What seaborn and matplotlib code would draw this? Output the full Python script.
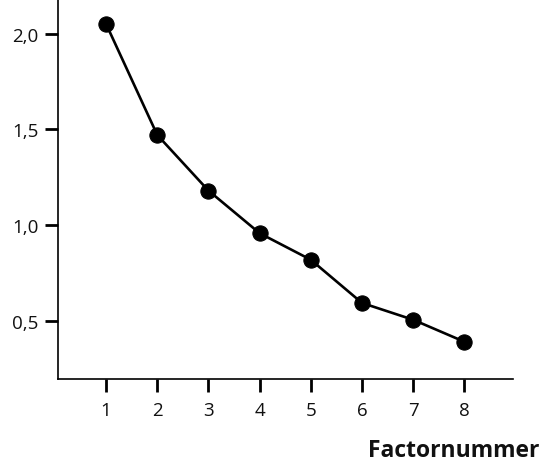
import matplotlib
matplotlib.use("Agg")
import matplotlib.pyplot as plt
import seaborn as sns
import pandas as pd
from matplotlib.ticker import FuncFormatter

factors = [1, 2, 3, 4, 5, 6, 7, 8]
eigenvalues = [2.052, 1.471, 1.180, 0.957, 0.818, 0.592, 0.504, 0.389]
y_ticks = [0.5, 1.0, 1.5, 2.0]
x_label = "Factornummer"

sns.set_style("white")
plt.rcParams['font.family'] = ['Open Sans', 'DejaVu Sans']

df = pd.DataFrame({"Factornummer": factors, "Eigenwaarde": eigenvalues})

fig = plt.figure(figsize=(5.42, 4.64), dpi=100)
ax = fig.add_axes([58/542, 84/464, (513-58)/542, (380-0)/464])

sns.lineplot(data=df, x="Factornummer", y="Eigenwaarde", ax=ax, color="black",
             linewidth=1.9, marker="o", markersize=11, markeredgecolor="black",
             markerfacecolor="black")

ax.set_xlim(0.06, 8.95)
ax.set_ylim(0.194, 2.183)
ax.set_xticks(factors)
ax.set_yticks(y_ticks)
ax.yaxis.set_major_formatter(FuncFormatter(lambda v, p: f"{v:.1f}".replace(".", ",")))
ax.set_xlabel("")
ax.set_ylabel("")

for s in ["top", "right"]:
    ax.spines[s].set_visible(False)
for s in ["left", "bottom"]:
    ax.spines[s].set_color("black")
    ax.spines[s].set_linewidth(1.2)

ax.tick_params(axis="both", direction="out", length=9.5, width=2, color="black",
               labelsize=13.5, labelcolor="#111111", left=True, bottom=True)
ax.tick_params(axis="x", pad=6)
ax.tick_params(axis="y", pad=4.5)

fig.text(539/542, 1 - 457.5/464, x_label, ha="right", va="baseline",
         fontsize=16.5, fontweight="bold", color="#111111")

fig.savefig("out.png", dpi=100)
